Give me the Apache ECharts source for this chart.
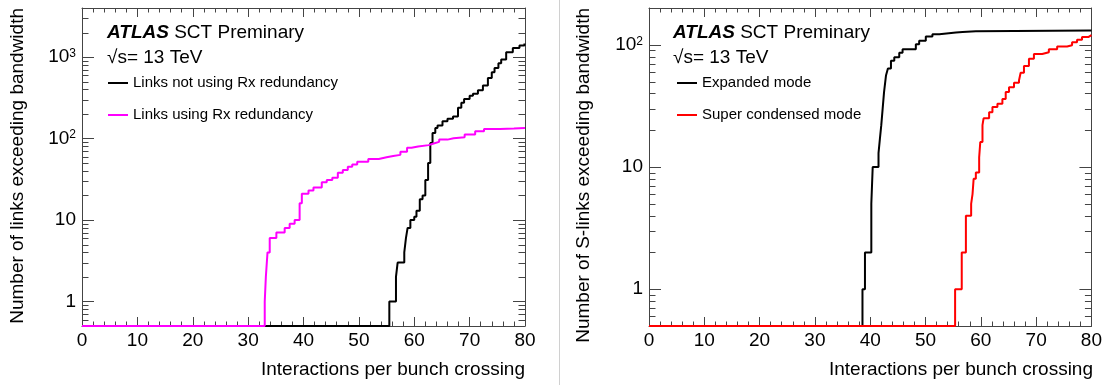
<!DOCTYPE html>
<html>
<head>
<meta charset="utf-8">
<script src="https://cdn.jsdelivr.net/npm/echarts@6/dist/echarts.min.js"></script>
<style>html,body{margin:0;padding:0;background:#fff}#c{width:1105px;height:385px;background:#fff}</style>
</head>
<body>
<div id="c"></div>
<script>
// ---------- data ----------
// x axis: interactions per bunch crossing
const X_MIN = 0, X_MAX = 80, X_STEP = 10;
// left panel (each value holds from its x until the next x)
const leftNoRxX = [0, 55.5, 56.7, 57.0, 58.2, 58.5, 58.8, 59.3, 60.0, 60.4, 61.0, 61.5, 62.0, 62.5, 62.9, 63.3, 63.8, 64.2, 65.1, 66.0, 67.0, 67.9, 68.5, 69.0, 70.0, 70.6, 71.5, 72.4, 73.3, 74.0, 74.5, 75.2, 75.7, 76.6, 77.8, 79.0, 79.9];
const leftNoRxY = [0, 1, 2, 3, 4, 6, 8, 10, 11, 13, 18, 20, 31, 50, 88, 117, 135, 144, 163, 175, 187, 238, 275, 306, 335, 355, 390, 447, 555, 650, 736, 840, 932, 1148, 1290, 1390, 1466];
const leftRxX = [0, 33.0, 33.2, 33.5, 33.9, 35.1, 36.6, 37.5, 38.4, 39.3, 39.7, 40.9, 41.8, 43.3, 44.2, 45.2, 46.2, 47.1, 48.0, 48.8, 49.7, 51.7, 53.6, 55.0, 56.2, 57.5, 58.7, 59.5, 60.7, 62.6, 63.5, 64.5, 66.0, 67.1, 69.1, 71.0, 72.6, 75.5, 78.0];
const leftRxY = [0, 1, 2, 4, 6, 7, 8, 9, 10, 16, 21, 23, 25, 29, 31, 33, 38, 41, 45, 48, 52, 56, 59, 61, 63, 69, 77, 80, 83, 87, 91, 97, 101, 104, 112, 123, 131, 133, 135];
// right panel
const rightExpX = [0, 38.6, 39.05, 40.2, 40.45, 41.5, 41.75, 42.0, 42.25, 42.5, 42.85, 43.2, 43.75, 44.35, 45.25, 45.85, 48.25, 48.85, 50.05, 51.25, 52.5, 55.5, 56.7, 59.1];
const rightExpY = [0, 1, 2, 5, 10, 13, 17, 22, 30, 41, 56, 64, 74, 79, 86, 92, 101, 108, 117, 122, 126, 127, 129, 131];
const rightSupX = [0, 55.35, 56.55, 57.3, 58.25, 58.5, 58.7, 59.1, 59.7, 59.9, 60.3, 60.5, 61.5, 62.1, 63.0, 63.9, 64.5, 65.1, 66.0, 66.9, 67.2, 67.8, 68.7, 69.6, 71.1, 72.3, 73.8, 75.6, 76.5, 77.4, 78.3, 79.5];
const rightSupY = [0, 1, 2, 4, 5, 6, 8, 9, 12, 16, 22, 25, 28, 31, 33, 36, 41, 45, 49, 51, 59, 67, 77, 84, 87, 92, 97, 99, 105, 110, 116, 120];
// y axis ranges and log minor ticks
const leftYMin = 0.5, leftYMax = 4000;
const rightYMin = 0.5, rightYMax = 200;
const leftMinorTicks = [0.6, 0.7, 0.8, 0.9, 2, 3, 4, 5, 6, 7, 8, 9, 20, 30, 40, 50, 60, 70, 80, 90, 200, 300, 400, 500, 600, 700, 800, 900, 2000, 3000];
const rightMinorTicks = [0.6, 0.7, 0.8, 0.9, 2, 3, 4, 5, 6, 7, 8, 9, 20, 30, 40, 50, 60, 70, 80, 90, 200];
// texts
const nameNoRx = 'Links not using Rx redundancy';
const nameRx = 'Links using Rx redundancy';
const nameExp = 'Expanded mode';
const nameSup = 'Super condensed mode';
const leftYTitle = 'Number of links exceeding bandwidth';
const rightYTitle = 'Number of S-links exceeding bandwidth';
const xTitle = 'Interactions per bunch crossing';
const atlasLabel = 'ATLAS', atlasRest = ' SCT Preminary', energyLabel = '\u221As= 13 TeV';

// ---------- styling ----------
const FONT = "'Liberation Sans', Arial, Helvetica, sans-serif";
const FRAME = '#444';
const MAJOR_Y = 12, MINOR_Y = 6.5, MAJOR_X = 9, MINOR_X = 4.5;
const AXIS_Z = 10;

function stepData(xs, ys, yFloor) {
  const d = xs.map((x, i) => [x, Math.max(ys[i], yFloor)]);
  d.push([X_MAX, Math.max(ys[ys.length - 1], yFloor)]);
  return d;
}
function logLabel(v) {
  const e = Math.round(Math.log10(v));
  if (Math.abs(Math.log10(v) - e) > 1e-6) return '';
  if (e === 0) return '1';
  if (e === 1) return '10';
  return '10{sup|' + e + '}';
}
function xAxisDef(grid, pos) {
  return {
    type: 'value', gridIndex: grid, position: pos, min: X_MIN, max: X_MAX, interval: X_STEP, z: AXIS_Z,
    axisLine: { show: true, onZero: false, lineStyle: { color: FRAME, width: 1 } },
    axisTick: { show: true, inside: true, length: MAJOR_X, lineStyle: { color: FRAME, width: 1 } },
    minorTick: { show: true, splitNumber: 5, length: MINOR_X, lineStyle: { color: FRAME, width: 1 } },
    splitLine: { show: false },
    axisLabel: { show: pos === 'bottom', fontSize: 19, color: '#000', fontFamily: FONT, margin: 5 }
  };
}
function yAxisDef(grid, pos, ymin, ymax) {
  return {
    type: 'log', logBase: 10, gridIndex: grid, position: pos, min: ymin, max: ymax, z: AXIS_Z,
    axisLine: { show: true, onZero: false, lineStyle: { color: FRAME, width: 1 } },
    axisTick: { show: true, inside: true, length: MAJOR_Y, lineStyle: { color: FRAME, width: 1 } },
    minorTick: { show: false },
    splitLine: { show: false },
    axisLabel: {
      show: pos === 'left', showMinLabel: false, showMaxLabel: false, margin: 6,
      fontSize: 19, color: '#000', fontFamily: FONT, formatter: logLabel,
      rich: { sup: { fontSize: 12, lineHeight: 12, verticalAlign: 'top', color: '#000', fontFamily: FONT } }
    }
  };
}
function minorTickSeries(axisIdx, values) {
  return {
    type: 'custom', xAxisIndex: axisIdx, yAxisIndex: axisIdx, silent: true, clip: false, z: AXIS_Z,
    data: values.map(v => [X_MIN, v]),
    renderItem: function (params, api) {
      const v = api.value(1);
      const pL = api.coord([X_MIN, v]);
      const pR = api.coord([X_MAX, v]);
      const y = Math.round(pL[1]) + 0.5;
      return { type: 'group', children: [
        { type: 'line', shape: { x1: pL[0], y1: y, x2: pL[0] + MINOR_Y, y2: y }, style: { stroke: FRAME, lineWidth: 1 } },
        { type: 'line', shape: { x1: pR[0] - MINOR_Y, y1: y, x2: pR[0], y2: y }, style: { stroke: FRAME, lineWidth: 1 } }
      ] };
    }
  };
}
function lineSeries(name, axisIdx, xs, ys, yFloor, color, z) {
  return {
    name: name, type: 'line', xAxisIndex: axisIdx, yAxisIndex: axisIdx, step: 'end',
    data: stepData(xs, ys, yFloor), showSymbol: false, symbol: 'none', clip: false, z: z,
    lineStyle: { color: color, width: 2 }, itemStyle: { color: color }
  };
}
function txt(x, y, text, style, extra) {
  return Object.assign({ type: 'text', x: x, y: y, silent: true, z: 30,
    style: Object.assign({ text: text, fill: '#000', font: '19px ' + FONT, textVerticalAlign: 'middle' }, style || {}) },
    extra || {});
}
const atlasRich = { b: { font: 'italic bold 19px ' + FONT, fill: '#000' } };

const chart = echarts.init(document.getElementById('c'), null, { renderer: 'canvas' });
chart.setOption({
  animation: false,
  grid: [
    { left: 82, top: 8, width: 443, height: 318 },
    { left: 649, top: 8, width: 444, height: 318 }
  ],
  xAxis: [xAxisDef(0, 'bottom'), xAxisDef(0, 'top'), xAxisDef(1, 'bottom'), xAxisDef(1, 'top')],
  yAxis: [yAxisDef(0, 'left', leftYMin, leftYMax), yAxisDef(0, 'right', leftYMin, leftYMax),
          yAxisDef(1, 'left', rightYMin, rightYMax), yAxisDef(1, 'right', rightYMin, rightYMax)],
  legend: [
    { data: [nameNoRx, nameRx], left: 108, top: 75, orient: 'vertical', padding: 0, itemWidth: 20, itemHeight: 2,
      icon: 'rect', itemGap: 16, itemTextGap: 5, selectedMode: false, z: 30,
      textStyle: { fontSize: 15, lineHeight: 16, color: '#000', fontFamily: FONT } },
    { data: [nameExp, nameSup], left: 677, top: 75, orient: 'vertical', padding: 0, itemWidth: 20, itemHeight: 2,
      icon: 'rect', itemGap: 16, itemTextGap: 4, selectedMode: false, z: 30,
      textStyle: { fontSize: 15, lineHeight: 16, color: '#000', fontFamily: FONT } }
  ],
  series: [
    minorTickSeries(0, leftMinorTicks),
    minorTickSeries(2, rightMinorTicks),
    lineSeries(nameNoRx, 0, leftNoRxX, leftNoRxY, leftYMin, '#000000', 20),
    lineSeries(nameRx, 0, leftRxX, leftRxY, leftYMin, '#ff00ff', 21),
    lineSeries(nameExp, 2, rightExpX, rightExpY, rightYMin, '#000000', 20),
    lineSeries(nameSup, 2, rightSupX, rightSupY, rightYMin, '#ff0000', 21)
  ],
  graphic: [
    { type: 'line', silent: true, z: 30, shape: { x1: 559.5, y1: 0, x2: 559.5, y2: 385 }, style: { stroke: '#d0d0d0', lineWidth: 1 } },
    txt(107, 33, '{b|' + atlasLabel + '}' + atlasRest, { rich: atlasRich }),
    txt(107, 58, energyLabel),
    txt(673, 33, '{b|' + atlasLabel + '}' + atlasRest, { rich: atlasRich }),
    txt(673, 58, energyLabel),
    txt(525, 370, xTitle, { textAlign: 'right' }),
    txt(1093, 370, xTitle, { textAlign: 'right' }),
    txt(18, 8, leftYTitle, { textAlign: 'right' }, { rotation: Math.PI / 2 }),
    txt(584, 8, rightYTitle, { textAlign: 'right' }, { rotation: Math.PI / 2 })
  ]
});
</script>
</body>
</html>
